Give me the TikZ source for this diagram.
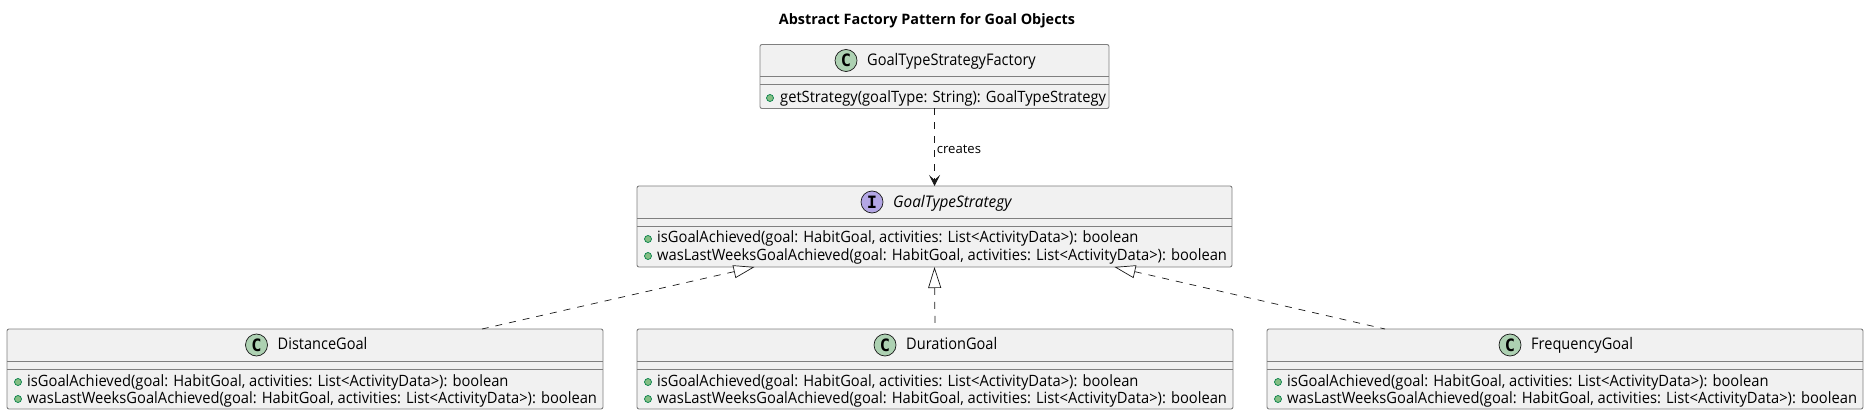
\documentclass[tikz,border=0pt]{standalone}
\usepackage{fontspec}
\setmainfont{Open Sans}
\newfontfamily\headfont[FakeStretch=0.91]{Open Sans}
\newfontfamily\methodfont[FakeStretch=0.943]{Open Sans}
\newfontfamily\ifacefont[FakeStretch=0.96,ItalicFont={Open Sans Italic}]{Open Sans}
\newfontfamily\spotfont{DejaVu Sans Mono}
\usetikzlibrary{arrows.meta}

\definecolor{boxfill}{HTML}{F1F1F1}
\definecolor{boxline}{HTML}{7F7F7F}
\definecolor{inkline}{HTML}{181818}
\definecolor{classfill}{HTML}{ADD1B2}
\definecolor{ifacefill}{HTML}{B4A7E5}
\definecolor{dotfill}{HTML}{84BE84}
\definecolor{dotline}{HTML}{038048}

\tikzset{
    classbox/.style={draw=boxline, fill=boxfill, line width=0.9pt, rounded corners=2pt, minimum height=#1, inner sep=0pt, outer sep=0pt},
    spot/.style={draw=inkline, circle, line width=0.7pt, minimum size=22pt, inner sep=0pt, font=\spotfont\fontsize{17}{17}\bfseries},
    headtext/.style={anchor=west, inner sep=0pt, text height=12pt, text depth=4pt, font=\headfont\fontsize{16}{16}\selectfont},
    methodtext/.style={anchor=west, inner sep=0pt, text height=12pt, text depth=4pt, font=\methodfont\fontsize{15.6}{16}\selectfont},
    vis/.style={draw=dotline, fill=dotfill, circle, minimum size=7pt, inner sep=0pt, line width=0.7pt},
    realize/.style={dashed, dash pattern=on 7pt off 7pt, draw=inkline, line width=0.7pt, {Triangle[open,length=21pt,width=13pt,fill=white]}-},
    creates/.style={dashed, dash pattern=on 7pt off 7pt, draw=inkline, line width=0.7pt, -{Stealth[length=11pt,width=11pt,inset=5pt]}},
}

\begin{document}
\begin{tikzpicture}[x=1pt, y=-1pt]
    \useasboundingbox (0,0) rectangle (1868,414);

    % title
    \node[inner sep=0pt, font=\fontsize{14.4}{16}\bfseries] (title) at (927,20.5) {Abstract Factory Pattern for Goal Objects};

    % factory
    \node[classbox=64pt, minimum width=349pt] (factory) at (934.5,76.5) {};
    \draw[draw=boxline, line width=0.9pt] (760,76.5) -- (1109,76.5) (760,84.5) -- (1109,84.5);
    \node[spot, fill=classfill] (factoryspot) at (846,60.5) {C};
    \node[headtext] (factoryname) at (867,61.5) {GoalTypeStrategyFactory};
    \node[vis] (factorydot) at (770,98) {};
    \node[methodtext] (factorymethod) at (780,99) {getStrategy(goalType: String): GoalTypeStrategy};

    % strategy
    \node[classbox=81pt, minimum width=595pt] (strategy) at (934.5,226.5) {};
    \draw[draw=boxline, line width=0.9pt] (637,218) -- (1232,218) (637,226) -- (1232,226);
    \node[spot, fill=ifacefill] (strategyspot) at (872,202) {I};
    \node[headtext, font=\ifacefont\fontsize{16}{16}\itshape] (strategyname) at (893,203.5) {GoalTypeStrategy};
    \foreach \y/\tag/\txt in {238/a/isGoalAchieved, 255/b/wasLastWeeksGoalAchieved}{
        \node[vis] (strategydot\tag) at (648,\y+1) {};
        \node[methodtext] (strategymethod\tag) at (657,\y+1) {\txt(goal: HabitGoal, activities: List<ActivityData>): boolean};
    }

    % goals
    \foreach \name/\label/\x/\spotx in {distance/DistanceGoal/7/256.5, duration/DurationGoal/637/885, frequency/FrequencyGoal/1267/1510}{
        \node[classbox=80pt, minimum width=596pt, anchor=north west] (\name) at (\x,329) {};
        \draw[draw=boxline, line width=0.9pt] (\x,361) -- (\x+596,361) (\x,369) -- (\x+596,369);
        \node[spot, fill=classfill] (\name spot) at (\spotx,345) {C};
        \node[headtext] (\name text) at (\spotx+21,345.5) {\label};
        \foreach \y/\tag/\txt in {381/a/isGoalAchieved, 398/b/wasLastWeeksGoalAchieved}{
            \node[vis] (\name dot\tag) at (\x+11,\y+1) {};
            \node[methodtext] (\name method\tag) at (\x+20,\y+1) {\txt(goal: HabitGoal, activities: List<ActivityData>): boolean};
        }
    }

    % relations
    \draw[creates] (factory.south) -- node[right, inner sep=0pt, xshift=2pt, yshift=-2pt, font=\fontsize{13.1}{16}\selectfont] (createslabel) {creates} (strategy.north);
    \draw[realize] ([xshift=-180pt]strategy.south) -- ([xshift=177pt]distance.north);
    \draw[realize] (strategy.south) -- (duration.north);
    \draw[realize] ([xshift=180pt]strategy.south) -- ([xshift=-180pt]frequency.north);
\end{tikzpicture}
\end{document}
